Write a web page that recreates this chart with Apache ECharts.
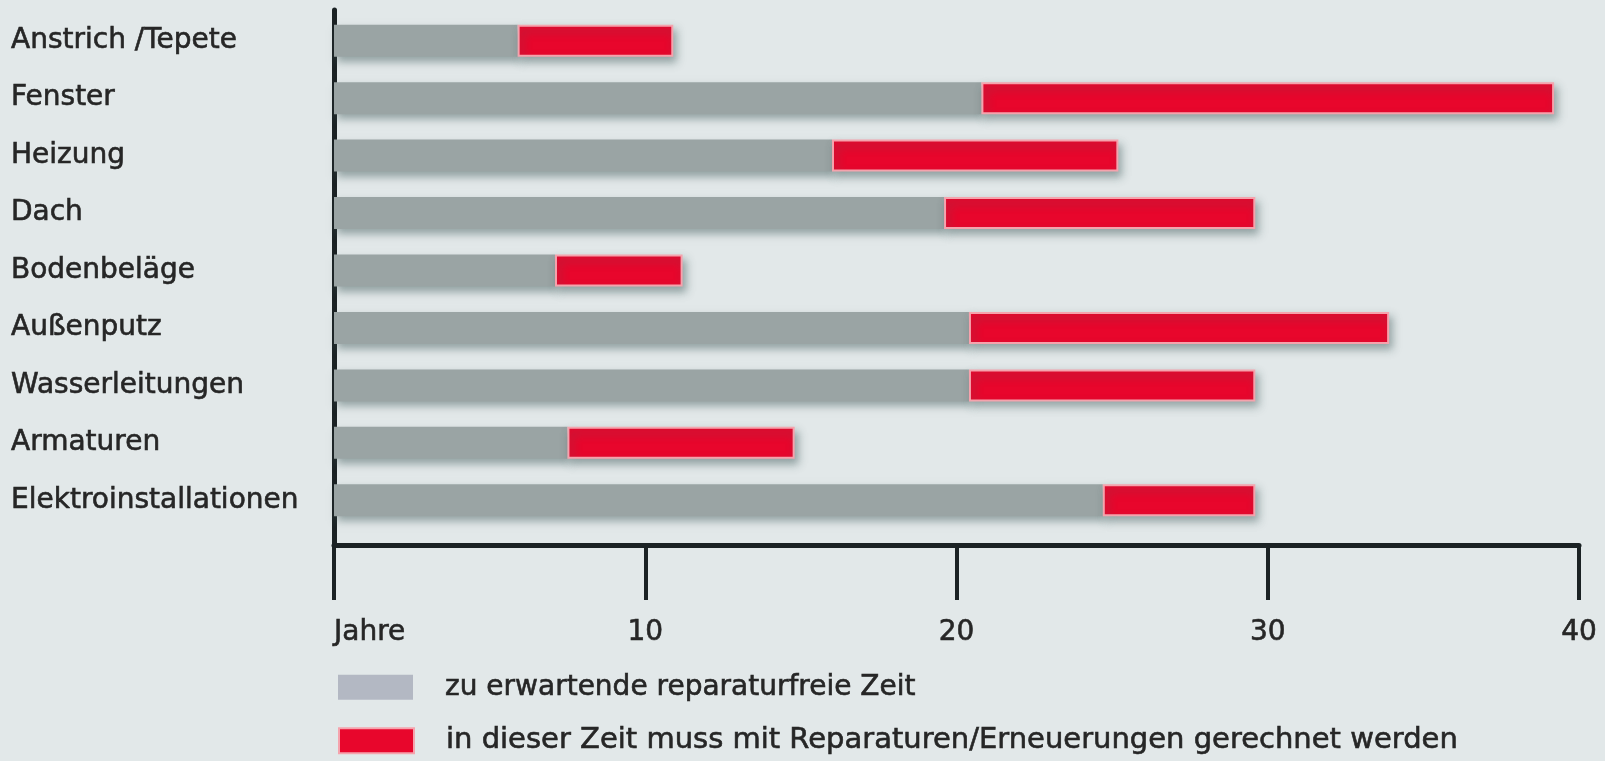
<!DOCTYPE html>
<html>
<head>
<meta charset="utf-8">
<script src="https://cdn.jsdelivr.net/npm/echarts@6/dist/echarts.min.js"></script>
<style>
  html, body { margin: 0; padding: 0; background: #e2e8e9; }
  #main { width: 1605px; height: 761px; }
</style>
</head>
<body>
<div id="main"></div>
<script>
let categories = ['Anstrich /Tepete', 'Fenster', 'Heizung', 'Dach', 'Bodenbeläge', 'Außenputz', 'Wasserleitungen', 'Armaturen', 'Elektroinstallationen']
// Ende der reparaturfreien Zeit (Jahre)
let freeYears = [5.9, 20.8, 16.0, 19.6, 7.1, 20.4, 20.4, 7.5, 24.7]
// Ende der Zeit mit Reparaturen (Jahre)
let repairEndYears = [10.9, 39.2, 25.2, 29.6, 11.2, 33.9, 29.6, 14.8, 29.6]
let xTicks = [0, 10, 20, 30, 40]
let xTickLabels = ['Jahre', '10', '20', '30', '40']
let legendNames = ['zu erwartende reparaturfreie Zeit', 'in dieser Zeit muss mit Reparaturen/Erneuerungen gerechnet werden']

let repairYears = []
for (let i = 0; i < freeYears.length; i++) {
  repairYears.push(+(repairEndYears[i] - freeYears[i]).toFixed(2))
}

let font = 'DejaVu Sans'
let axisColor = '#1b2224'
let textColor = '#262626'

// gemeinsamer Schriftstil, leicht verstärkt wie im Scan
let labelText = {
  color: textColor,
  fontSize: 28,
  fontFamily: font,
  textBorderColor: textColor,
  textBorderWidth: 0.6
}

function legendBox (name, top, fontSize, itemStyle) {
  return {
    orient: 'vertical',
    left: 333,
    top: top,
    itemWidth: 75,
    itemHeight: 25,
    icon: 'rect',
    selectedMode: false,
    textStyle: Object.assign({}, labelText, { fontSize: fontSize, lineHeight: 28, padding: [0, 0, 0, 27] }),
    data: [{ name: name, itemStyle: itemStyle }]
  }
}

let myChart = echarts.init(document.getElementById('main'))
let option = {
  backgroundColor: '#e2e8e9',
  animation: false,
  textStyle: { fontFamily: font },
  legend: [
    legendBox(legendNames[0], 668, 28, { color: '#b3b8c3', borderWidth: 0 }),
    legendBox(legendNames[1], 721, 29, { color: '#e8062c', borderColor: '#f5a3ad', borderWidth: 2 })
  ],
  grid: [
    { left: 334, right: 26, top: 12, height: 517 },
    { left: 334, right: 26, top: 10, height: 535 }
  ],
  xAxis: [
    { type: 'value', gridIndex: 0, min: 0, max: 40, show: false },
    {
      type: 'value',
      gridIndex: 1,
      min: 0,
      max: 40,
      interval: 10,
      axisLine: { show: true, onZero: false, lineStyle: { color: axisColor, width: 5 } },
      axisTick: { show: true, length: 55, lineStyle: { color: axisColor, width: 4 } },
      axisLabel: Object.assign({
        margin: 74,
        alignMinLabel: 'left',
        formatter: function (value) {
          let idx = xTicks.indexOf(value)
          return idx >= 0 ? xTickLabels[idx] : ''
        }
      }, labelText),
      splitLine: { show: false }
    }
  ],
  yAxis: [
    {
      type: 'category',
      gridIndex: 0,
      inverse: true,
      data: categories,
      axisLine: { show: false },
      axisTick: { show: false },
      axisLabel: Object.assign({ align: 'left', margin: 323 }, labelText)
    },
    {
      type: 'value',
      gridIndex: 1,
      min: 0,
      max: 1,
      axisLine: { show: true, onZero: false, lineStyle: { color: axisColor, width: 5 } },
      axisTick: { show: false },
      axisLabel: { show: false },
      splitLine: { show: false }
    }
  ],
  series: [
    {
      name: legendNames[0],
      type: 'bar',
      xAxisIndex: 0,
      yAxisIndex: 0,
      stack: 'zeit',
      barWidth: 32,
      itemStyle: {
        color: '#9aa4a4',
        shadowColor: 'rgba(70, 95, 95, 0.5)',
        shadowBlur: 8,
        shadowOffsetX: 3,
        shadowOffsetY: 5
      },
      data: freeYears
    },
    {
      name: legendNames[1],
      type: 'bar',
      xAxisIndex: 0,
      yAxisIndex: 0,
      stack: 'zeit',
      barWidth: 32,
      itemStyle: {
        color: '#e8062c',
        borderColor: '#f5a3ad',
        borderWidth: 2,
        shadowColor: 'rgba(70, 95, 95, 0.5)',
        shadowBlur: 8,
        shadowOffsetX: 3,
        shadowOffsetY: 5
      },
      data: repairYears
    }
  ]
}
myChart.setOption(option)
</script>
</body>
</html>
